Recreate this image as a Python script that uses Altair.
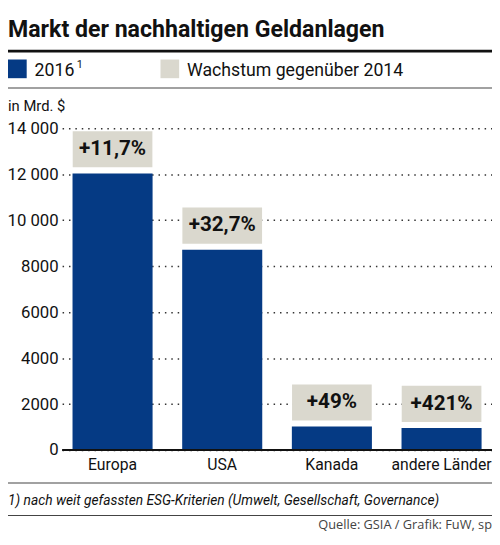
import altair as alt
import pandas as pd

# ---------------- data ----------------
categories = ["Europa", "USA", "Kanada", "andere Länder"]
values_2016 = [12040, 8720, 1020, 960]
growth_labels = ["+11,7%", "+32,7%", "+49%", "+421%"]
y_ticks = [0, 2000, 4000, 6000, 8000, 10000, 12000, 14000]
y_tick_labels = ["0", "2000", "4000", "6000", "8000", "10 000", "12 000", "14 000"]

title_text = "Markt der nachhaltigen Geldanlagen"
legend_labels = ["2016", "Wachstum gegenüber 2014"]
legend_sup = "1"
unit_text = "in Mrd. $"
footnote_text = "1) nach weit gefassten ESG-Kriterien (Umwelt, Gesellschaft, Governance)"
source_text = "Quelle: GSIA / Grafik: FuW, sp"

# ---------------- style ----------------
BLUE = "#053a84"
GRAY = "#dad8ce"
INK = "#111111"
FONT = "Roboto"

W, H = 437, 327
PAD_L, PAD_T = 55, 118
TOTAL_W, TOTAL_H = 492, 527

df = pd.DataFrame({"Region": categories, "Wert": values_2016, "Wachstum": growth_labels})
one = pd.DataFrame({"k": [0]})

label_expr = "[" + ",".join("'%s'" % l for l in y_tick_labels) + "][indexof([" + \
    ",".join(str(v) for v in y_ticks) + "], datum.value)]"

x_scale = alt.Scale(paddingInner=0.27, paddingOuter=0.095)
y_scale = alt.Scale(domain=[0, 14000], nice=False)

x_enc = alt.X("Region:N", sort=categories, scale=x_scale,
              axis=alt.Axis(title=None, labelFont=FONT, labelFontSize=16, labelColor=INK,
                            labelAngle=0, labelPadding=7, ticks=False, domain=False, grid=False))
y_enc = alt.Y("Wert:Q", scale=y_scale,
              axis=alt.Axis(title=None, values=y_ticks, labelExpr=label_expr,
                            labelFont=FONT, labelFontSize=17, labelColor=INK, labelPadding=4,
                            ticks=False, domain=False, grid=True, gridDash=[1.5, 5],
                            gridColor="#333333", gridWidth=1.5))

bars = alt.Chart(df).mark_bar(color=BLUE).encode(x=x_enc, y=y_enc)

box_shape = "M-1,-0.453L1,-0.453L1,0.453L-1,0.453Z"
boxes = alt.Chart(df).mark_point(shape=box_shape, size=6561, filled=True, fill=GRAY,
                                 opacity=1, strokeWidth=0, yOffset=-24.5).encode(
    x=alt.X("Region:N", sort=categories, scale=x_scale),
    y=alt.Y("Wert:Q", scale=y_scale))
box_text = alt.Chart(df).mark_text(font=FONT, fontWeight="bold", fontSize=21, color=INK,
                                   baseline="middle", align="center", yOffset=-24.5).encode(
    x=alt.X("Region:N", sort=categories, scale=x_scale),
    y=alt.Y("Wert:Q", scale=y_scale),
    text="Wachstum:N")

baseline = alt.Chart(one).mark_rule(color=INK, strokeWidth=2).encode(
    x=alt.value(0), x2=alt.value(W), y=alt.value(H))


def txt(text, x, y, size, align="left", **kw):
    return alt.Chart(one).mark_text(text=text, align=align, baseline="alphabetic",
                                    fontSize=size, **kw).encode(
        x=alt.value(x - PAD_L), y=alt.value(y - PAD_T))


def hline(y, x1, x2, color, width):
    return alt.Chart(one).mark_rule(color=color, strokeWidth=width).encode(
        x=alt.value(x1 - PAD_L), x2=alt.value(x2 - PAD_L), y=alt.value(y - PAD_T))


def rect(x1, y1, x2, y2, color):
    return alt.Chart(one).mark_rect(color=color).encode(
        x=alt.value(x1 - PAD_L), x2=alt.value(x2 - PAD_L),
        y=alt.value(y1 - PAD_T), y2=alt.value(y2 - PAD_T))


deco = [
    txt(title_text, 0, 25, 23.5, font=FONT, fontWeight="bold", color=INK),
    hline(39.5, 0, TOTAL_W, INK, 3),
    rect(0, 48, 19, 67, BLUE),
    txt(legend_labels[0], 27, 65, 18, font=FONT, color=INK),
    txt(legend_sup, 70, 57, 11, font=FONT, color=INK),
    rect(155, 48, 174, 67, GRAY),
    txt(legend_labels[1], 182, 65, 18, font=FONT, color=INK),
    hline(77, 0, TOTAL_W, "#444444", 1.2),
    txt(unit_text, 0, 100, 15, font=FONT, color=INK),
    hline(478.5, 0, TOTAL_W, "#444444", 1.2),
    txt(footnote_text, 0, 501, 14, font=FONT, fontStyle="italic", color=INK),
    hline(511.5, 0, TOTAL_W, "#444444", 1.2),
    txt(source_text, TOTAL_W, 525, 13, align="right", font="Open Sans", color="#444444"),
]

chart = alt.layer(bars, baseline, boxes, box_text, *deco).properties(
    width=W, height=H,
    autosize=alt.AutoSizeParams(type="none"),
    padding={"left": PAD_L, "top": PAD_T, "right": TOTAL_W - PAD_L - W,
             "bottom": TOTAL_H - PAD_T - H},
    background="white",
).configure_view(stroke=None)

chart.save("out.html", embed_options={"renderer": "svg", "actions": False})
